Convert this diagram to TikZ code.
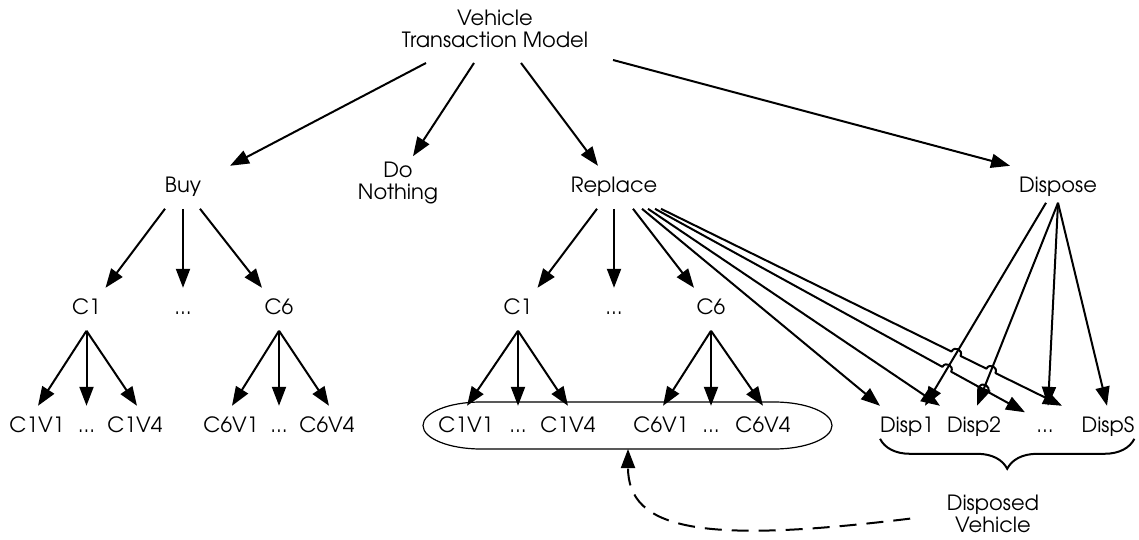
\documentclass[tikz,border=0pt]{standalone}
\usepackage{fontspec}
\setmainfont{texgyreadventor-regular.otf}
\usetikzlibrary{arrows.meta,calc,intersections,decorations.pathreplacing}
\begin{document}
\begin{tikzpicture}[x=1pt,y=-1pt,
  every node/.style={font=\fontsize{21}{22}\selectfont},
  lbl/.style={inner sep=0pt, outer xsep=0pt, outer ysep=11.5pt,
              text height=15.5pt, text depth=4.5pt, anchor=base},
  stack/.style={inner sep=0pt, outer sep=0pt, align=center, anchor=north},
  arr/.style={line width=2pt, line join=round, -{Triangle[length=19pt,width=14pt]}},
  dasharrow/.style={arr, dash pattern=on 17pt off 10pt},
  hop/.style={bend left=90, looseness=1.7},
  group/.style={line width=1.2pt},
  bracestyle/.style={line width=2pt, decorate, decoration={brace, mirror, amplitude=30pt}}
]
\useasboundingbox (0,0) rectangle (1139,540);

% root and first level
\node[stack, outer ysep=15pt] (vtm) at (495,-4.8) {Vehicle\\Transaction Model};
\node[stack, outer ysep=6pt] (dn) at (398,156.2) {Do\\Nothing};
\node[lbl] (buy) at (183,192.8) {Buy};
\node[lbl] (rep) at (614,192.8) {Replace};
\node[lbl] (dsp) at (1058,192.8) {Dispose};

% classes
\node[lbl] (bc1) at (86.5,314.8) {C1};
\node[lbl] (bcx) at (183,314.8) {...};
\node[lbl] (bc6) at (279,314.8) {C6};
\node[lbl] (rc1) at (518,314.8) {C1};
\node[lbl] (rcx) at (614,314.8) {...};
\node[lbl] (rc6) at (711,314.8) {C6};

% vintages
\node[lbl] (bc1v1) at (37,432.8) {C1V1};
\node[lbl] (bc1vx) at (86.5,432.8) {...};
\node[lbl] (bc1v4) at (135,432.8) {C1V4};
\node[lbl] (bc6v1) at (231,432.8) {C6V1};
\node[lbl] (bc6vx) at (279,432.8) {...};
\node[lbl] (bc6v4) at (327,432.8) {C6V4};
\node[lbl] (rc1v1) at (466,432.8) {C1V1};
\node[lbl] (rc1vx) at (518,432.8) {...};
\node[lbl] (rc1v4) at (568,432.8) {C1V4};
\node[lbl] (rc6v1) at (661,432.8) {C6V1};
\node[lbl] (rc6vx) at (711,432.8) {...};
\node[lbl] (rc6v4) at (763,432.8) {C6V4};

% disposal slots
\node[lbl] (d1) at (907,432.8) {Disp1};
\node[lbl] (d2) at (974,432.8) {Disp2};
\node[lbl] (dx) at (1045,432.8) {...};
\node[lbl] (ds) at (1108,432.8) {DispS};

\node[stack] (dv) at (993,495.2) {Disposed\\Vehicle};

% replacement vintages enclosure
\draw[group] (481,402) -- (774,402)
  arc[start angle=-90, end angle=90, x radius=58, y radius=23.5] -- (481,449)
  arc[start angle=90, end angle=270, x radius=58, y radius=23.5] -- cycle;
\coordinate (grpbottom) at (628,449);

% root edges
\draw[arr] ([xshift=-69pt]vtm.south) -- ([xshift=47pt]buy.north);
\draw[arr] ([xshift=-21pt]vtm.south) -- ([xshift=15pt]dn.north);
\draw[arr] ([xshift=26pt]vtm.south) -- ([xshift=-16pt]rep.north);
\draw[arr] ([xshift=118pt,yshift=3pt]vtm.south) -- ([xshift=-48pt]dsp.north);

% buy branch
\draw[arr] ([xshift=-18pt]buy.south) -- ([xshift=19pt]bc1.north);
\draw[arr] (buy.south) -- (bcx.north);
\draw[arr] ([xshift=17pt]buy.south) -- ([xshift=-17pt]bc6.north);
\draw[arr] (bc1.south) -- ([xshift=1pt]bc1v1.north);
\draw[arr] (bc1.south) -- (bc1vx.north);
\draw[arr] (bc1.south) -- ([xshift=2pt]bc1v4.north);
\draw[arr] (bc6.south) -- ([xshift=1pt]bc6v1.north);
\draw[arr] (bc6.south) -- (bc6vx.north);
\draw[arr] (bc6.south) -- ([xshift=2pt]bc6v4.north);

% replace branch
\draw[arr] ([xshift=-17pt]rep.south) -- ([xshift=19.5pt]rc1.north);
\draw[arr] (rep.south) -- (rcx.north);
\draw[arr] ([xshift=19pt]rep.south) -- ([xshift=-17pt]rc6.north);
\draw[arr] (rc1.south) -- ([xshift=1pt]rc1v1.north);
\draw[arr] (rc1.south) -- (rc1vx.north);
\draw[arr] (rc1.south) -- (rc1v4.north);
\draw[arr] (rc6.south) -- ([xshift=2pt]rc6v1.north);
\draw[arr] (rc6.south) -- (rc6vx.north);
\draw[arr] (rc6.south) -- (rc6v4.north);

% dispose branch
\coordinate (dsL) at ([xshift=-12pt,yshift=6pt]dsp.south);
\coordinate (dsM) at ([yshift=6pt]dsp.south);
\draw[arr, name path=pd1] (dsL) -- ([xshift=18pt]d1.north);
\draw[arr, name path=pd2] (dsM) -- ([xshift=3pt]d2.north);
\draw[arr] (dsM) -- ([xshift=3pt]dx.north);
\draw[arr] (dsM) -- ([xshift=-1pt]ds.north);

% replace to disposal slots, hopping over the dispose edges
\draw[arr] ([xshift=28pt]rep.south) -- ([xshift=-27pt]d1.north);
\draw[arr] ([xshift=34pt]rep.south) -- ([xshift=-34pt]d2.north);
\coordinate (r3s) at ([xshift=41pt]rep.south);
\coordinate (r3e) at ([xshift=-20pt,yshift=-6.5pt]dx.north);
\coordinate (r4s) at ([xshift=47pt]rep.south);
\coordinate (r4e) at ([xshift=-46pt]ds.north);
\path[name path=pr3] (r3s) -- (r3e);
\path[name path=pr4] (r4s) -- (r4e);
\path[name intersections={of=pr3 and pd1, by=h31}];
\path[name intersections={of=pr3 and pd2, by=h32}];
\path[name intersections={of=pr4 and pd1, by=h41}];
\path[name intersections={of=pr4 and pd2, by=h42}];
\draw[arr] (r3s) -- ($(h31)!5pt!(r3s)$) to[hop] ($(h31)!-5pt!(r3s)$)
  -- ($(h32)!5pt!(r3s)$) to[hop] ($(h32)!-5pt!(r3s)$) -- (r3e);
\draw[arr] (r4s) -- ($(h41)!5pt!(r4s)$) to[hop] ($(h41)!-5pt!(r4s)$)
  -- ($(h42)!5pt!(r4s)$) to[hop] ($(h42)!-5pt!(r4s)$) -- (r4e);

% disposal slots grouped
\draw[bracestyle] ([yshift=-6pt]d1.base west) -- ([yshift=-6pt]ds.base east);

% disposed vehicle re-enters the replacement vintages
\draw[dasharrow, shorten <=37pt] (dv.west)
  to[out=187, in=-90, out looseness=1.93, in looseness=0.64] (grpbottom);
\end{tikzpicture}
\end{document}
